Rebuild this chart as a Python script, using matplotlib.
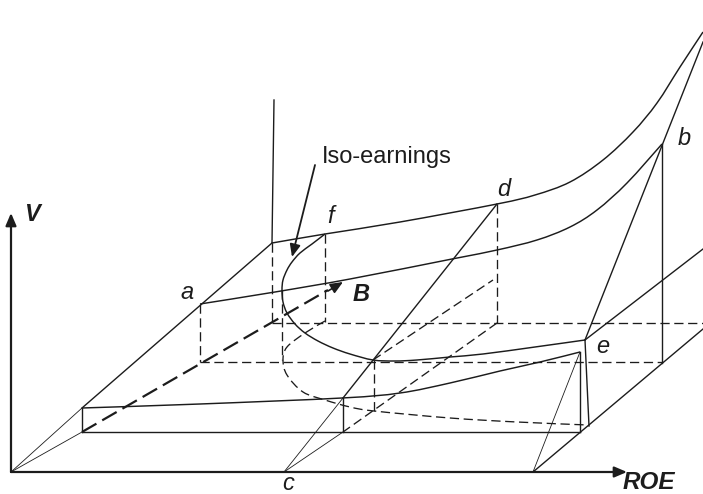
import matplotlib

matplotlib.use("Agg")

from matplotlib import pyplot as plt
from matplotlib.patches import PathPatch
from matplotlib.path import Path

plt.rcParams["font.family"] = ["Liberation Sans", "DejaVu Sans"]

INK = "#1c1c1c"

# all values, in picture pixels
upper_x = [272, 325, 400, 497, 535, 570, 603, 633, 657, 680, 703]
upper_y = [243, 234, 222, 204, 195, 182, 160, 132, 103, 67, 32]
lower_x = [200, 275, 350, 452, 497, 537, 570, 597, 627, 662]
lower_y = [304, 292, 279, 259, 250, 240, 227, 210, 183, 144]
iso_x = [325, 312, 300, 292, 287, 283, 282, 283, 287, 295, 305, 318, 333, 350, 373, 395, 417, 450, 483, 535, 585]
iso_y = [234, 244, 253, 262, 270, 280, 290, 302, 313, 324, 333, 341, 348, 354, 360, 361, 360, 357, 354, 347, 340]
iso_floor_x = [325, 305, 287, 283, 287, 303, 325, 350, 374, 450, 517, 588]
iso_floor_y = [321, 333, 347, 360, 375, 392, 400, 407, 411, 418, 422, 425]
base_x = [82, 200, 342, 400, 450, 500, 540, 580]
base_y = [408, 404, 398, 393, 383, 371, 362, 352]

solid_segments = [
    ((82, 272), (408, 243)),
    ((272, 274), (243, 100)),
    ((82, 82), (408, 432)),
    ((82, 580), (432, 432)),
    ((343, 343), (398, 432)),
    ((580, 580), (352, 432)),
    ((343, 497), (398, 204)),
    ((533, 703), (472, 329)),
    ((585, 703), (340, 249)),
    ((585, 589), (340, 426)),
    ((662, 662), (144, 363)),
    ((585, 703), (340, 42)),
]
thin_segments = [
    ((11, 82), (472, 408)),
    ((11, 82), (472, 432)),
    ((284, 343), (472, 398)),
    ((284, 343), (472, 432)),
    ((533, 580), (472, 352)),
]
dashed_segments = [
    ((272, 272), (243, 323)),
    ((325, 325), (234, 322)),
    ((272, 703), (323, 323)),
    ((200, 200), (304, 362)),
    ((200, 662), (362, 362)),
    ((497, 497), (204, 323)),
    ((497, 343), (323, 432)),
    ((373, 493), (360, 280)),
    ((374, 374), (360, 411)),
    ((282, 282), (290, 360)),
]
labels = [
    ("a", 187, 292),
    ("f", 331, 216),
    ("d", 504, 189),
    ("b", 684, 138),
    ("e", 603, 346),
    ("c", 288, 483),
]
bold_labels = [
    ("V", 32, 214),
    ("B", 361, 294),
]


def smooth_curve(ax, xs, ys, **style):
    # bezier through the read points, controls taken from the neighbours
    points = list(zip(xs, ys))
    vertices = [points[0]]
    codes = [Path.MOVETO]
    for i in range(len(points) - 1):
        before = points[max(i - 1, 0)]
        start = points[i]
        end = points[i + 1]
        after = points[min(i + 2, len(points) - 1)]
        vertices.append((start[0] + (end[0] - before[0]) / 6, start[1] + (end[1] - before[1]) / 6))
        vertices.append((end[0] - (after[0] - start[0]) / 6, end[1] - (after[1] - start[1]) / 6))
        vertices.append(end)
        codes.extend([Path.CURVE4, Path.CURVE4, Path.CURVE4])
    ax.add_patch(PathPatch(Path(vertices, codes), facecolor="none", edgecolor=INK, **style))


def arrow(ax, start, end, lw=1.6):
    ax.annotate(
        "",
        xy=end,
        xytext=start,
        arrowprops=dict(
            arrowstyle="-|>,head_length=0.75,head_width=0.32",
            color=INK,
            lw=lw,
            shrinkA=0,
            shrinkB=0,
            mutation_scale=10,
        ),
    )


fig = plt.figure(figsize=(7.03, 4.94), dpi=100)
ax = fig.add_axes([0, 0, 1, 1])
ax.set_xlim(0, 703)
ax.set_ylim(494, 0)
ax.axis("off")

for xs, ys in solid_segments:
    ax.plot(xs, ys, color=INK, linewidth=1.0)
for xs, ys in thin_segments:
    ax.plot(xs, ys, color=INK, linewidth=0.6)
for xs, ys in dashed_segments:
    ax.plot(xs, ys, color=INK, linewidth=0.95, dashes=(7, 3.5))

for xs, ys in [(upper_x, upper_y), (lower_x, lower_y), (iso_x, iso_y), (base_x, base_y)]:
    smooth_curve(ax, xs, ys, linewidth=1.05)
smooth_curve(ax, iso_floor_x, iso_floor_y, linewidth=0.95, linestyle=(0, (7, 3.5)))

arrow(ax, (11, 472), (11, 213))
arrow(ax, (11, 472), (627, 472))
arrow(ax, (315, 165), (292, 257), lw=1.3)
ax.plot([82, 328], [432, 290], color=INK, linewidth=1.6, dashes=(7.5, 3))
arrow(ax, (328, 291), (343, 282), lw=1.2)

for text, x, y in labels:
    ax.text(x, y, text, fontsize=17, style="italic", color=INK, ha="center", va="center")
for text, x, y in bold_labels:
    ax.text(x, y, text, fontsize=17, style="italic", weight="bold", color=INK, ha="center", va="center")
ax.text(649, 488.5, "ROE", fontsize=17.5, style="italic", weight="bold", color=INK, ha="center", va="baseline")
ax.text(322, 157, "Iso-earnings", fontsize=17, color=INK, ha="left", va="center")

plt.savefig("out.png", dpi=100)
